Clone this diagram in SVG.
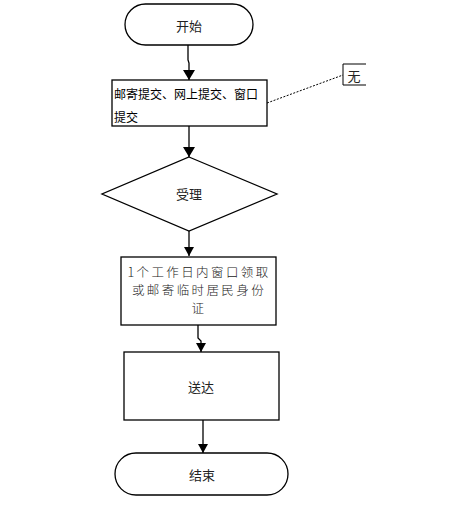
<svg xmlns="http://www.w3.org/2000/svg" width="458" height="509" viewBox="0 0 458 509">
<style>
.shape{fill:#fff;stroke:#000;stroke-width:1.3}
.conn{fill:none;stroke:#000;stroke-width:1.3}
.t{font-family:"Noto Sans CJK SC","Noto Sans",sans-serif;font-size:13px;fill:#222;text-anchor:middle;dominant-baseline:central}
.ts{font-family:"Noto Sans CJK SC",sans-serif;font-size:12px;fill:#000;dominant-baseline:central}
.tr{font-family:"Noto Sans CJK SC","Liberation Serif",serif;font-size:12.5px;fill:#222;text-anchor:middle;dominant-baseline:central;letter-spacing:2.4px;font-weight:300}
</style>
<defs>
<marker id="arr" markerWidth="10" markerHeight="12" refX="10" refY="6" orient="auto" markerUnits="userSpaceOnUse">
<path d="M0,0 L10,6 L0,12 Z" fill="#000"/>
</marker>
<marker id="arrs" markerWidth="9" markerHeight="10" refX="9" refY="5" orient="auto" markerUnits="userSpaceOnUse">
<path d="M0,0 L9,5 L0,10 Z" fill="#000"/>
</marker>
</defs>
<g id="connectors">
<path class="conn" d="M188,45 V60 L189,63 V80" marker-end="url(#arr)"/>
<path class="conn" d="M189,126 V157" marker-end="url(#arr)"/>
<path class="conn" d="M189,231 V256" marker-end="url(#arrs)"/>
<path class="conn" d="M198,325 V338 L201,341 V352" marker-end="url(#arrs)"/>
<path class="conn" d="M203,420 V453" marker-end="url(#arrs)"/>
<path d="M267,103 L343,75" fill="none" stroke="#000" stroke-width="1" stroke-dasharray="2,1.5"/>
</g>
<g id="start">
<rect class="shape" x="125" y="4" width="128" height="41" rx="20.5"/>
<text class="t" x="189" y="25">开始</text>
</g>
<g id="submit">
<rect class="shape" x="112" y="80" width="155" height="46"/>
<text class="ts" x="114" y="93">邮寄提交、网上提交、窗口</text>
<text class="ts" x="114" y="116">提交</text>
</g>
<g id="none">
<path d="M366,64 H343 V85 H366" fill="none" stroke="#000" stroke-width="1"/>
<text class="t" x="354" y="75">无</text>
</g>
<g id="accept">
<polygon class="shape" points="189,157 277,194 189,231 102,194"/>
<text class="t" x="189" y="193">受理</text>
</g>
<g id="collect">
<rect class="shape" x="121" y="257" width="155" height="68"/>
<text class="tr" x="199" y="271">1个工作日内窗口领取</text>
<text class="tr" x="199" y="289">或邮寄临时居民身份</text>
<text class="tr" x="199" y="307">证</text>
</g>
<g id="deliver">
<rect class="shape" x="124" y="352" width="155" height="68"/>
<text class="t" x="201" y="386">送达</text>
</g>
<g id="end">
<rect class="shape" x="115" y="453" width="173" height="42" rx="21"/>
<text class="t" x="202" y="474">结束</text>
</g>
</svg>
